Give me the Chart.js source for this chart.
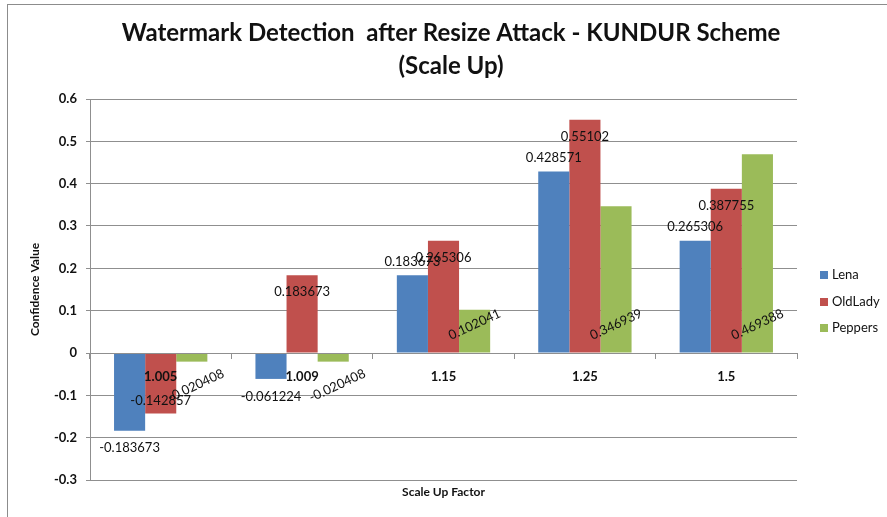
<!DOCTYPE html>
<html>
<head>
<meta charset="utf-8">
<title>Watermark Detection after Resize Attack - KUNDUR Scheme</title>
<script src="https://cdn.jsdelivr.net/npm/chart.js@4/dist/chart.umd.min.js"></script>
<style>
  html, body { margin: 0; padding: 0; background: #fff; overflow: hidden; }
  #wrap { position: relative; width: 887px; height: 517px; }
  #frame { position: absolute; left: 7px; top: 4px; width: 900px; height: 600px;
           border: 1px solid #8c8c8c; box-sizing: border-box; }
  canvas { position: absolute; left: 0; top: 0; }
</style>
</head>
<body>
<div id="wrap">
  <div id="frame"></div>
  <canvas id="chart" width="887" height="517"></canvas>
</div>
<script>
// ---------- Data ----------
const categories = ['1.005', '1.009', '1.15', '1.25', '1.5'];
const lena    = [-0.183673, -0.061224, 0.183673, 0.428571, 0.265306];
const oldLady = [-0.142857, 0.183673, 0.265306, 0.55102, 0.387755];
const peppers = [-0.020408, -0.020408, 0.102041, 0.346939, 0.469388];
const seriesNames  = ['Lena', 'OldLady', 'Peppers'];
const seriesColors = ['#4F81BD', '#C0504D', '#9BBB59'];
const titleLines = ['Watermark Detection  after Resize Attack - KUNDUR Scheme', '(Scale Up)'];
const xTitle = 'Scale Up Factor';
const yTitle = 'Confidence Value';
const Y_MIN = -0.3, Y_MAX = 0.6, Y_STEP = 0.1;

const GRID = '#8f8f8f';
const TEXT = '#111';
const FONT = 'Lato, "Open Sans", sans-serif';

// ---------- Labels on bars (placed like the Excel original) ----------
const barLabels = {
  id: 'barLabels',
  afterDatasetsDraw(chart) {
    const ctx = chart.ctx;
    ctx.save();
    ctx.font = '13px ' + FONT;
    ctx.fillStyle = TEXT;
    ctx.textAlign = 'center';
    chart.data.datasets.forEach((ds, i) => {
      chart.getDatasetMeta(i).data.forEach((bar, j) => {
        const v = ds.data[j];
        const txt = String(v);
        const neg = v < 0;
        ctx.save();
        if (i === 0) {
          // outside end
          ctx.textBaseline = neg ? 'top' : 'bottom';
          ctx.fillText(txt, bar.x, neg ? bar.y + 11 : bar.y - 7);
        } else if (i === 1) {
          // inside end
          ctx.textBaseline = 'middle';
          ctx.fillText(txt, bar.x, neg ? bar.y - 13 : bar.y + 17);
        } else {
          // inside base, rotated
          ctx.translate(bar.x + (neg ? 4 : 0), neg ? bar.base + 32 : bar.base - 28);
          ctx.rotate(-25 * Math.PI / 180);
          ctx.textBaseline = 'middle';
          ctx.fillText(txt, 0, 0);
        }
        ctx.restore();
      });
    });
    ctx.restore();
  }
};

// ---------- Title, x title, legend ----------
const decor = {
  id: 'decor',
  afterDraw(chart) {
    const { ctx, chartArea } = chart;
    ctx.save();
    ctx.fillStyle = TEXT;
    ctx.textAlign = 'center';
    ctx.textBaseline = 'middle';
    ctx.font = 'bold 24px ' + FONT;
    ctx.fillText(titleLines[0], 451, 33);
    ctx.fillText(titleLines[1], 451, 66);

    ctx.font = 'bold 12px ' + FONT;
    ctx.fillText(xTitle, (chartArea.left + chartArea.right) / 2, 492);

    // legend
    ctx.textAlign = 'left';
    ctx.font = '13px ' + FONT;
    const legendY = [275, 302, 328];
    seriesNames.forEach((name, i) => {
      ctx.fillStyle = seriesColors[i];
      ctx.fillRect(820, legendY[i] - 4, 8, 8);
      ctx.fillStyle = TEXT;
      ctx.fillText(name, 832, legendY[i]);
    });
    ctx.restore();
  }
};

const ctx = document.getElementById('chart').getContext('2d');
new Chart(ctx, {
  type: 'bar',
  data: {
    labels: categories,
    datasets: [lena, oldLady, peppers].map((d, i) => ({
      label: seriesNames[i],
      data: d,
      backgroundColor: seriesColors[i],
      borderWidth: 0,
      categoryPercentage: 0.66,
      barPercentage: 1.0,
    })),
  },
  options: {
    responsive: false,
    animation: false,
    devicePixelRatio: 1,
    layout: { padding: { left: 0, right: 90, top: 99, bottom: 37 } },
    plugins: {
      legend: { display: false },
      title: { display: false },
      tooltip: { enabled: false },
    },
    scales: {
      x: {
        position: { y: 0 },
        grid: { display: true, drawOnChartArea: false, drawTicks: true, tickLength: 5, color: GRID, offset: true, z: 1 },
        border: { display: true, color: GRID, z: 1 },
        ticks: { z: 1, autoSkip: false, color: TEXT, font: { family: FONT, size: 13, weight: 'bold' }, padding: 11, maxRotation: 0 },
        title: { display: false },
      },
      y: {
        min: Y_MIN,
        max: Y_MAX,
        afterFit(scale) { scale.width = 90; },
        grid: { color: GRID, tickLength: 4 },
        border: { color: GRID },
        ticks: {
          stepSize: Y_STEP,
          color: TEXT,
          padding: 9,
          font: { family: FONT, size: 13, weight: 'bold' },
          callback: (v) => String(+v.toFixed(1)),
        },
        title: {
          display: true,
          text: yTitle,
          color: TEXT,
          font: { family: FONT, size: 12, weight: 'bold' },
          padding: { top: 28, bottom: 0 },
        },
      },
    },
  },
  plugins: [barLabels, decor],
});
</script>
</body>
</html>
